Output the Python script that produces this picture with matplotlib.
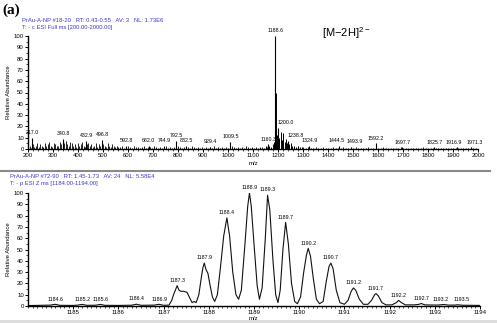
import numpy as np
import matplotlib
matplotlib.use("Agg")
import matplotlib.pyplot as plt
from matplotlib.ticker import MultipleLocator

# ---------------- data: top panel (full scan, m/z 200-2000) ----------------
# labelled peaks
full_label_mz = [217.0, 340.8, 432.9, 496.8, 592.8, 682.0, 744.9, 792.5, 832.5,
                 929.4, 1009.5, 1160.3, 1188.6, 1200.0, 1238.8, 1324.9, 1444.5,
                 1493.9, 1592.2, 1697.7, 1825.7, 1916.9, 1971.3]
full_label_int = [10, 9, 7, 8, 3, 2.5, 2.5, 7, 3, 2, 6, 4, 100, 19, 7, 3, 2.5,
                  2, 5, 1.5, 1.5, 1.5, 1.5]
# unlabelled cluster next to the base peak
cluster_mz = [1150, 1156, 1165, 1172, 1178, 1183, 1191, 1196, 1205, 1210, 1215,
              1220, 1226, 1231, 1236, 1244, 1250, 1256, 1262, 1270, 1278, 1286, 1294]
cluster_int = [3, 2, 3, 2, 4, 6, 50, 12, 10, 15, 8, 14, 6, 9, 5, 4, 5, 3, 3, 2, 3, 2, 2]
# baseline noise sticks
noise_a_start, noise_a_step = 200, 6
noise_a = [2, 3, 1, 4, 2, 3, 5, 2, 4, 3, 2, 5, 3, 4, 6, 3, 2, 5, 4, 3,
           3, 6, 4, 2, 5, 7, 4, 3, 6, 5, 3, 4, 2, 5, 3, 4, 6, 3, 2, 4,
           5, 3, 4, 2, 3, 5, 2, 4, 3, 2, 4, 3, 2, 5, 3, 2, 4, 3, 2, 3, 2]
noise_b_start, noise_b_step = 566, 8
noise_b = [2, 3, 1, 2, 3, 2, 1, 3, 2, 2, 1, 2, 3, 1, 2, 2, 1, 3, 2, 1,
           2, 1, 2, 3, 1, 2, 1, 2, 1, 3, 2, 1, 2, 1, 2, 1, 3, 2, 1, 2,
           1, 2, 1, 2, 1, 2, 1, 3, 1, 2, 1, 2, 1, 2, 1, 2, 3, 2, 1, 2,
           1, 2, 1, 3, 2, 1, 2, 1, 2, 1, 2, 2, 1]
noise_c_start, noise_c_step = 1300, 10
noise_c = [2, 1, 2, 1, 1, 2, 1, 1, 2, 1, 1, 1, 2, 1, 1, 1, 2, 1, 1, 1,
           1, 2, 1, 1, 1, 1, 2, 1, 1, 1, 1, 1, 2, 1, 1, 1, 1, 1, 1, 2,
           1, 1, 1, 1, 1, 1, 1, 1, 2, 1, 1, 1, 1, 1, 1, 1, 1, 1, 1, 1,
           1, 1, 1, 1, 1, 1, 1, 1, 1, 1]

# ---------------- data: bottom panel (zoom scan, m/z 1184-1194) ----------------
zoom_mz = [1184.0, 1184.3, 1184.5, 1184.6, 1184.7, 1185.0, 1185.1, 1185.2, 1185.3,
           1185.5, 1185.6, 1185.7, 1186.0, 1186.3, 1186.4, 1186.5, 1186.8, 1186.9,
           1187.0, 1187.12, 1187.18, 1187.22, 1187.27, 1187.3, 1187.34, 1187.38,
           1187.45, 1187.52, 1187.58, 1187.63, 1187.68, 1187.72, 1187.78, 1187.83,
           1187.87, 1187.9, 1187.94, 1187.98, 1188.03, 1188.08, 1188.13, 1188.19,
           1188.26, 1188.33, 1188.4, 1188.46, 1188.53, 1188.6, 1188.66, 1188.72,
           1188.8, 1188.86, 1188.9, 1188.94, 1189.0, 1189.07, 1189.12, 1189.18,
           1189.25, 1189.3, 1189.35, 1189.42, 1189.48, 1189.53, 1189.58, 1189.64,
           1189.7, 1189.76, 1189.83, 1189.9, 1189.96, 1190.03, 1190.1, 1190.16,
           1190.2, 1190.25, 1190.31, 1190.38, 1190.45, 1190.53, 1190.6, 1190.66,
           1190.7, 1190.75, 1190.82, 1190.9, 1191.0, 1191.08, 1191.15, 1191.2,
           1191.25, 1191.33, 1191.42, 1191.52, 1191.6, 1191.67, 1191.7, 1191.75,
           1191.83, 1191.92, 1192.05, 1192.15, 1192.2, 1192.26, 1192.35, 1192.55,
           1192.65, 1192.7, 1192.78, 1193.05, 1193.2, 1193.3, 1193.45, 1193.5,
           1193.6, 1194.0]
zoom_int = [0.4, 0.6, 0.8, 1.5, 0.6, 0.5, 0.8, 1.4, 0.6, 0.7, 1.4, 0.6, 0.5,
            0.7, 1.6, 0.6, 0.8, 1.5, 0.6, 0.8, 5, 10, 15, 18, 14, 13,
            13, 12, 7, 3, 4, 3, 10, 24, 34, 38, 32, 29, 18, 8, 4, 10,
            35, 62, 78, 62, 30, 10, 6, 14, 55, 88, 100, 88, 55, 18, 6, 16,
            60, 98, 85, 40, 10, 3, 14, 50, 74, 55, 20, 4, 2, 8, 30, 45,
            51, 44, 25, 6, 2, 4, 22, 35, 38, 33, 14, 3, 1.5, 5, 13, 16,
            14, 6, 1.5, 1.5, 5, 10, 11, 9, 3, 1, 1, 3, 5, 3, 1, 1,
            1.5, 2.2, 1, 0.8, 1.3, 0.8, 0.8, 1.1, 0.7, 0.5]
zoom_label_mz = [1184.6, 1185.2, 1185.6, 1186.4, 1186.9, 1187.3, 1187.9, 1188.4,
                 1188.9, 1189.3, 1189.7, 1190.2, 1190.7, 1191.2, 1191.7, 1192.2,
                 1192.7, 1193.2, 1193.5]
zoom_label_int = [1.5, 1.4, 1.4, 1.6, 1.5, 18, 38, 78, 100, 98, 74, 51, 38, 16,
                  11, 5, 2.2, 1.3, 1.1]

full_ticks = list(range(200, 2001, 100))
zoom_ticks = list(range(1185, 1195))
y_ticks = list(range(0, 101, 10))

# ---------------- figure ----------------
plt.rcParams['font.family'] = ['Liberation Sans', 'DejaVu Sans']
plt.rcParams['mathtext.default'] = 'regular'
fig = plt.figure(figsize=(4.97, 3.23), dpi=100)
W, H = 497.0, 323.0

def fx(px):
    return px / W

def fy(py):
    return 1 - py / H

blue = '#3a3ad0'
lab_fs = 4.3
peak_fs = 3.8

def style_axes(ax):
    for s in ('top', 'right'):
        ax.spines[s].set_visible(False)
    for s in ('left', 'bottom'):
        ax.spines[s].set_linewidth(1.0)
    ax.tick_params(axis='both', which='major', length=2, width=0.7,
                   labelsize=lab_fs, pad=1, direction='out')
    ax.tick_params(axis='both', which='minor', length=1.2, width=0.5, direction='out')
    ax.set_yticks(y_ticks)
    ax.set_ylim(0, 100)

# label nudges (points) to keep neighbouring labels apart
top_nudge = {1444.5: -2, 1493.9: 2, 1916.9: -2.5, 1971.3: 2.5}
bottom_nudge = {1193.2: -2.5, 1193.5: 3}

# top axes
ax1 = fig.add_axes([fx(28), fy(149), fx(478 - 28), (149 - 36) / H])
style_axes(ax1)
for start, step, vals in ((noise_a_start, noise_a_step, noise_a),
                          (noise_b_start, noise_b_step, noise_b),
                          (noise_c_start, noise_c_step, noise_c)):
    mz = start + step * np.arange(len(vals))
    ax1.vlines(mz, 0, vals, color='black', lw=0.6)
ax1.vlines(cluster_mz, 0, cluster_int, color='black', lw=0.7)
ax1.vlines(full_label_mz, 0, full_label_int, color='black', lw=0.8)
for m, v in zip(full_label_mz, full_label_int):
    ha = 'left' if m in (1200.0, 1238.8) else 'center'
    ax1.annotate(f"{m:.1f}", (m, v), xytext=(top_nudge.get(m, 0), 2),
                 textcoords='offset points', ha=ha, va='bottom',
                 fontsize=peak_fs, annotation_clip=False)
ax1.set_xlim(200, 2000)
ax1.set_xticks(full_ticks)
ax1.xaxis.set_minor_locator(MultipleLocator(20))
ax1.yaxis.set_minor_locator(MultipleLocator(5))
ax1.set_ylabel('Relative Abundance', fontsize=4.3, labelpad=2)

# bottom axes
ax2 = fig.add_axes([fx(28), fy(306), fx(480 - 28), (306 - 193) / H])
style_axes(ax2)
ax2.plot(zoom_mz, zoom_int, color='#111111', lw=0.8)
for m, v in zip(zoom_label_mz, zoom_label_int):
    ax2.annotate(f"{m:.1f}", (m, v), xytext=(bottom_nudge.get(m, 0), 2),
                 textcoords='offset points', ha='center', va='bottom',
                 fontsize=peak_fs, annotation_clip=False)
ax2.set_xlim(1184, 1194)
ax2.set_xticks(zoom_ticks)
ax2.xaxis.set_minor_locator(MultipleLocator(0.1))
ax2.yaxis.set_minor_locator(MultipleLocator(5))
ax2.set_ylabel('Relative Abundance', fontsize=4.3, labelpad=2)

# m/z labels
fig.text(fx(253), fy(163), 'm/z', fontsize=4.3, ha='center', va='center')
fig.text(fx(253), fy(318), 'm/z', fontsize=4.3, ha='center', va='center')

# header lines
fig.text(fx(22), fy(20), 'PrAu-A-NP #18-20   RT: 0.43-0.55   AV: 3   NL: 1.73E6',
         fontsize=4.2, color=blue, va='center')
fig.text(fx(22), fy(27), 'T: - c ESI Full ms [200.00-2000.00]',
         fontsize=4.2, color=blue, va='center')
fig.text(fx(10), fy(177), 'PrAu-A-NP #72-90   RT: 1.45-1.73   AV: 24   NL: 5.58E4',
         fontsize=4.2, color=blue, va='center')
fig.text(fx(10), fy(184), 'T: - p ESI Z ms [1184.00-1194.00]',
         fontsize=4.2, color=blue, va='center')

# panel letter and ion annotation
fig.text(fx(2), fy(10), '(a)', fontsize=11, fontweight='bold',
         family=['Liberation Serif', 'DejaVu Serif'], va='center', ha='left')
fig.text(fx(322), fy(33), r'[M$-$2H]$^{2-}$', fontsize=8, va='center', ha='left')

# separators
fig.add_artist(plt.Line2D([0, fx(490)], [fy(171), fy(171)], color='#8a8a8a', lw=1.5))
fig.add_artist(plt.Rectangle((0, 0), fx(497), 3 / H, color='#dddddd', lw=0))

fig.savefig('out.png', dpi=100)
